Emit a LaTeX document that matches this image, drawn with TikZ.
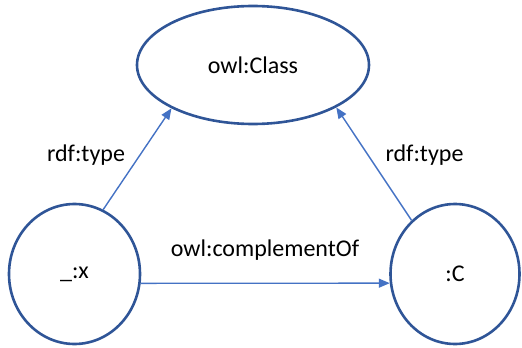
\documentclass[tikz,border=0pt]{standalone}
\usepackage{fontspec}
\setmainfont{Carlito}
\usetikzlibrary{shapes.geometric, arrows.meta}

\definecolor{nodeblue}{RGB}{47,85,151}
\definecolor{edgeblue}{RGB}{68,114,196}

\tikzset{
	res/.style = {draw = nodeblue, line width = 2.6pt, ellipse, inner sep = 0pt, font = \fontsize{24}{28}\selectfont},
	prop/.style = {draw = edgeblue, line width = 1.4pt, -{Triangle[length = 11pt, width = 9pt]}},
	lbl/.style = {font = \fontsize{24}{28}\selectfont}
}

\begin{document}
\begin{tikzpicture}[x = 1pt, y = -1pt]
\useasboundingbox (0, 0) rectangle (522, 348);
\node[res, minimum width = 232pt, minimum height = 118pt] (class) at (253, 65) {owl:Class};
\node[res, minimum width = 131pt, minimum height = 140pt] (x) at (74.5, 274) {\_:x};
\node[res, minimum width = 129pt, minimum height = 140pt] (c) at (455, 274) {:C};
\draw[prop] (x.66) -- (class.-152);
\draw[prop] (c.129) -- (class.-27);
\draw[prop] (x.-8) -- (c.188);
\node[lbl] (typex) at (86, 155) {rdf:type};
\node[lbl] (typec) at (424.5, 155) {rdf:type};
\node[lbl] (compl) at (265, 250) {owl:complementOf};
\end{tikzpicture}
\end{document}
